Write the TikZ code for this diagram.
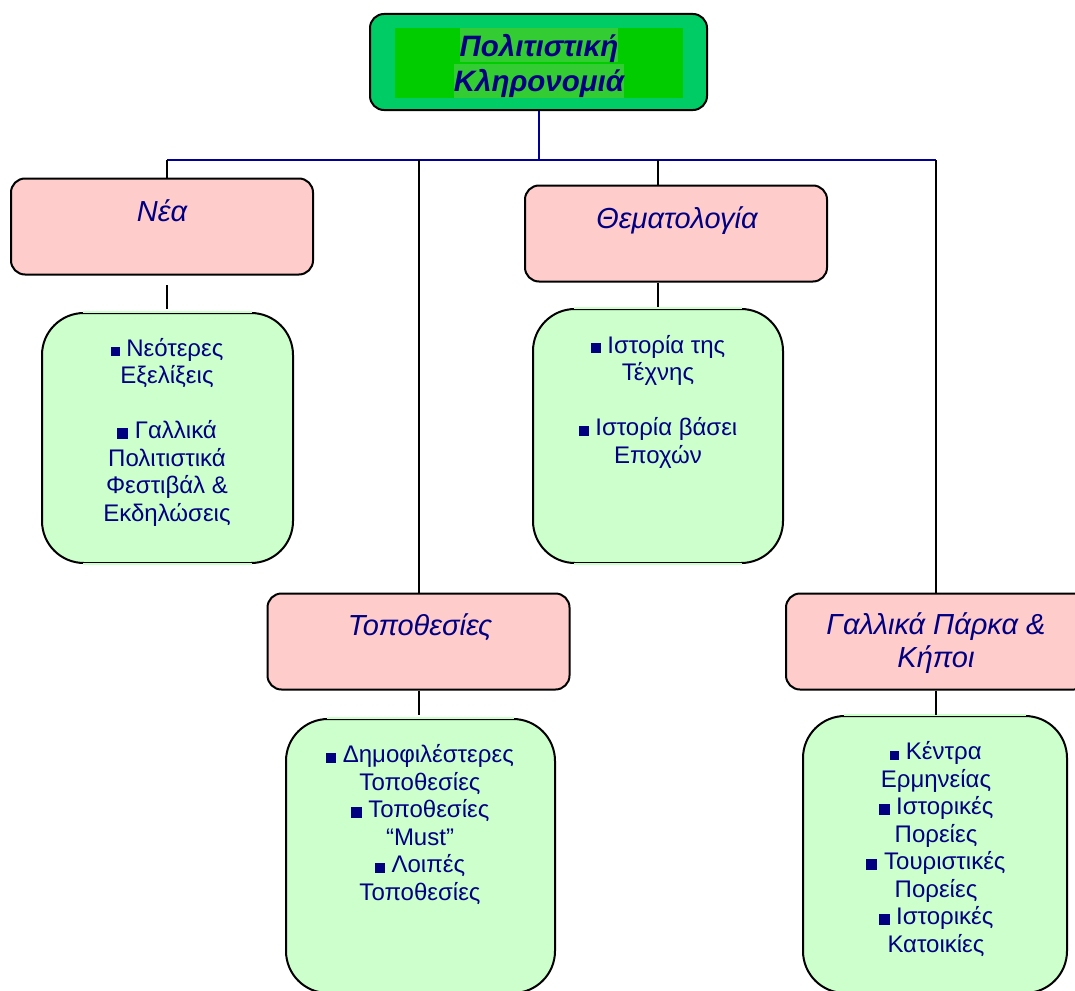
\documentclass[tikz,border=0pt]{standalone}
\usepackage{fontspec}
\setmainfont{Liberation Sans}
\usetikzlibrary{positioning}

\definecolor{navytext}{HTML}{000080}
\definecolor{busblue}{HTML}{000099}
\definecolor{pinkfill}{HTML}{FFCCCC}
\definecolor{greenfill}{HTML}{CCFFCC}
\definecolor{rootfill}{HTML}{00CC66}
\definecolor{rootmid}{HTML}{00CC00}
\definecolor{rootlite}{HTML}{33CC33}

\newcommand{\blt}[1][10]{\rule{#1pt}{#1pt}\ }
\newcommand{\hlt}[1]{{\fboxsep=0pt\colorbox{rootlite}{\rule[-6pt]{0pt}{34pt}#1}}}

\begin{document}
\begin{tikzpicture}[x=1pt, y=-1pt,
  topbox/.style={draw, line width=2pt, rounded corners=14pt, fill=rootfill, minimum width=337pt, minimum height=96pt},
  roottext/.style={fill=rootmid, inner sep=0pt, minimum width=288pt, minimum height=68pt, align=center, text=navytext, font=\fontsize{29.5}{34}\selectfont\bfseries\itshape},
  catbox/.style={draw, line width=2pt, rounded corners=14pt, fill=pinkfill, minimum width=302pt, minimum height=96pt},
  cattext/.style={inner sep=0pt, align=center, text=navytext, font=\fontsize{29}{33}\selectfont\itshape},
  listbox/.style={draw, line width=2pt, rounded corners=42pt, fill=greenfill},
  listtext/.style={inner sep=0pt, align=center, text=navytext, font=\fontsize{24}{27.5}\selectfont},
  bus/.style={draw=busblue, line width=2pt},
  link/.style={draw=black, line width=2pt},
  gap/.style={draw=greenfill, line width=2.3pt}]
\useasboundingbox (0,0) rectangle (1075,990);

% root
\node[topbox] (root) at (538.5,62) {};
\node[roottext] (rootlbl) at (539,63) {\hlt{Πολιτιστική}\\\hlt{Κληρονομιά}};

% categories
\node[catbox] (nea) at (162,226.5) {};
\node[catbox] (them) at (676,233.5) {};
\node[catbox] (topo) at (418.5,641.5) {};
\node[catbox] (park) at (937,641.5) {};
\node[cattext, anchor=base] (nea-t) at (162,221) {Νέα};
\node[cattext, anchor=base] (them-t) at (677,228) {Θεματολογία};
\node[cattext, anchor=base] (topo-t) at (420,635) {Τοποθεσίες};
\node[cattext, anchor=base] (park-t) at (936,667) {Γαλλικά Πάρκα \&\\Κήποι};

% lists
\node[listbox, minimum width=251pt, minimum height=250pt] (neaS) at (167.5,438) {};
\node[listbox, minimum width=250pt, minimum height=254pt] (themS) at (658,436) {};
\node[listbox, minimum width=269pt, minimum height=274pt] (topoS) at (420.5,856) {};
\node[listbox, minimum width=264pt, minimum height=277pt] (parkS) at (935,854.5) {};
\foreach \b in {neaS,themS,topoS,parkS} {
  \draw[gap] ([xshift=42pt]\b.north west) -- ([xshift=-42pt]\b.north east);
  \draw[gap] ([xshift=42pt]\b.south west) -- ([xshift=-42pt]\b.south east);
}
\node[listtext, anchor=base] (neaL) at (167,521) {\blt[9]Νεότερες\\Εξελίξεις\\[27.5pt]\blt[11]Γαλλικά\\Πολιτιστικά\\Φεστιβάλ \&\\Εκδηλώσεις};
\node[listtext, anchor=base] (themL) at (658,463) {\blt Ιστορία της\\Τέχνης\\[27.5pt]\blt Ιστορία βάσει\\Εποχών};
\node[listtext, anchor=base] (topoL) at (420,900) {\blt Δημοφιλέστερες\\Τοποθεσίες\\\blt[11]Τοποθεσίες\\“Must”\\\blt Λοιπές\\Τοποθεσίες};
\node[listtext, anchor=base] (parkL) at (936,952) {\blt[9]Κέντρα\\Ερμηνείας\\\blt[11]Ιστορικές\\Πορείες\\\blt[11]Τουριστικές\\Πορείες\\\blt[11]Ιστορικές\\Κατοικίες};

% connectors
\coordinate (busL) at (167,160);
\coordinate (busR) at (936,160);
\coordinate (neaJ) at (167,285);
\draw[bus] (root.south) -- (root.south |- busL);
\draw[bus] (busL) -- (busR);
\draw[link] (busL) -- (busL |- nea.north);
\draw[link] (topo.north |- busL) -- (topo.north);
\draw[link] (themS.north |- busL) -- (themS.north |- them.north);
\draw[link] (busR) -- (busR |- park.north);
\draw[link] (neaJ) -- ([yshift=3pt]neaJ |- neaS.north);
\draw[link] (them.south -| themS.north) -- ++(0,24);
\draw[link] (topo.south) -- ++(0,24);
\draw[link] (park.south -| busR) -- ++(0,24);
\end{tikzpicture}
\end{document}
